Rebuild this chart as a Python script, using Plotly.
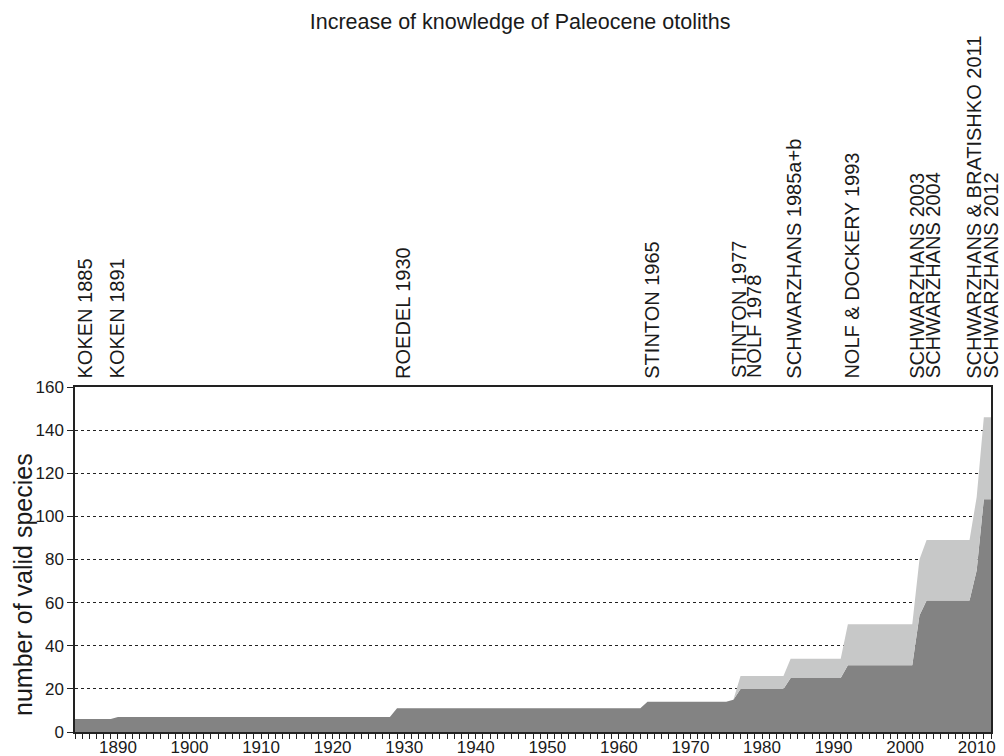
import plotly.graph_objects as go

# ---- data (vertices of the cumulative step series) ----
years = [1884, 1889, 1890, 1928, 1929, 1963, 1964, 1975, 1976, 1977, 1983,
         1984, 1991, 1992, 2001, 2002, 2003, 2009, 2010, 2011, 2012]
dark_species = [6, 6, 7, 7, 11, 11, 14, 14, 15, 20, 20,
                25, 25, 31, 31, 54, 61, 61, 75, 108, 108]
light_species = [0, 0, 0, 0, 0, 0, 0, 0, 0, 6, 6,
                 9, 9, 19, 19, 26, 28, 28, 34, 38, 38]

# publication labels and the x (year) where each is drawn
pub_labels = ["KOKEN 1885", "KOKEN 1891", "ROEDEL 1930", "STINTON 1965",
              "STINTON 1977", "NOLF 1978", "SCHWARZHANS 1985a+b",
              "NOLF & DOCKERY 1993", "SCHWARZHANS 2003", "SCHWARZHANS 2004",
              "SCHWARZHANS & BRATISHKO 2011", "SCHWARZHANS 2012"]
pub_label_x = [1885.4, 1890.0, 1929.9, 1964.6, 1976.8, 1978.9, 1984.5,
               1992.6, 2001.7, 2004.0, 2009.6, 2012.0]

x_ticks = [1890, 1900, 1910, 1920, 1930, 1940, 1950, 1960, 1970, 1980,
           1990, 2000, 2010]
y_ticks = [0, 20, 40, 60, 80, 100, 120, 140, 160]

FONT = "Liberation Sans, Arial, Helvetica, sans-serif"

fig = go.Figure()
fig.add_trace(go.Scatter(x=years, y=dark_species, mode="lines",
                         stackgroup="s", line=dict(width=0, color="#838383"),
                         fillcolor="#838383", hoverinfo="x+y"))
fig.add_trace(go.Scatter(x=years, y=light_species, mode="lines",
                         stackgroup="s", line=dict(width=0, color="#c7c8c8"),
                         fillcolor="#c7c8c8", hoverinfo="x+y"))

annotations = []
for t, xv in zip(pub_labels, pub_label_x):
    annotations.append(dict(text=t, x=xv, xref="x", y=1.019, yref="paper",
                            textangle=-90, xanchor="center", yanchor="bottom",
                            showarrow=False,
                            font=dict(family=FONT, size=20, color="#1a1a1a")))
annotations.append(dict(text="number of valid species", x=-0.0568, xref="paper",
                        y=0.429, yref="paper", textangle=-90,
                        xanchor="center", yanchor="middle", showarrow=False,
                        font=dict(family=FONT, size=25, color="#1a1a1a")))

fig.update_layout(
    width=1004, height=756,
    margin=dict(l=75, r=13, t=387, b=24),
    paper_bgcolor="white", plot_bgcolor="white",
    showlegend=False,
    font=dict(family=FONT, color="#1a1a1a"),
    title=dict(text="Increase of knowledge of Paleocene otoliths",
               x=0.518, xref="container", xanchor="center",
               y=1 - 21 / 756, yref="container", yanchor="middle",
               font=dict(family=FONT, size=21.5, color="#1a1a1a")),
    annotations=annotations,
)
fig.update_xaxes(range=[1884, 2012], tickvals=x_ticks, ticks="outside",
                 ticklen=5, tickcolor="#222", tickwidth=1,
                 ticklabelstandoff=-6,
                 minor=dict(dtick=1, tick0=1884, ticks="outside", ticklen=5,
                            tickcolor="#222", showgrid=False),
                 showline=True, linecolor="#222", linewidth=1.5, mirror=True,
                 showgrid=False, zeroline=False, automargin=False,
                 tickfont=dict(family=FONT, size=17, color="#1a1a1a"))
fig.update_yaxes(range=[0, 160], tickvals=y_ticks, ticks="outside",
                 ticklen=6, tickcolor="#222", tickwidth=1,
                 showline=True, linecolor="#222", linewidth=1.5, mirror=True,
                 showgrid=True, gridcolor="#222", gridwidth=1, griddash="dot",
                 zeroline=False, automargin=False,
                 tickfont=dict(family=FONT, size=17, color="#1a1a1a"))

fig.write_html("out.html", config={"displayModeBar": False},
               post_script="document.body.style.margin='0';"
                           "document.body.style.overflow='hidden';")
